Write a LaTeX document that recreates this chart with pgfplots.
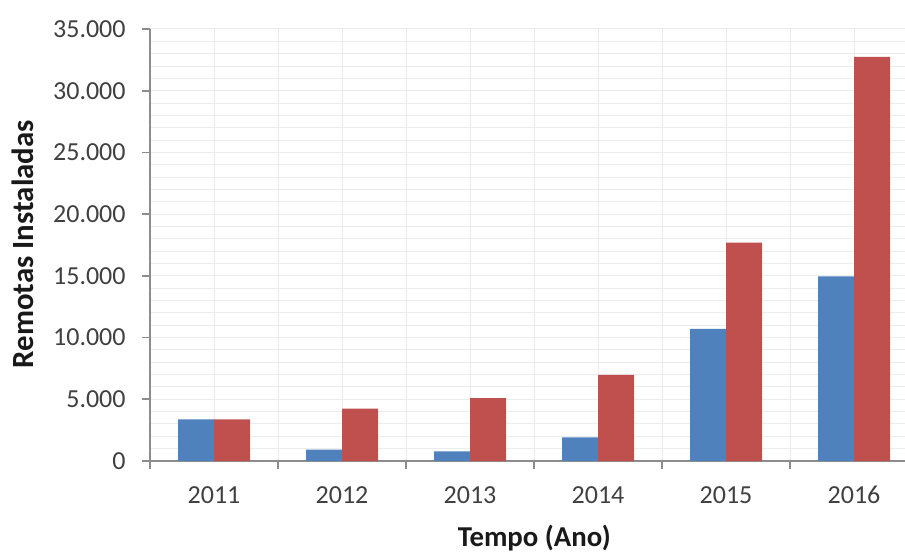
\documentclass[border=0pt]{standalone}
\usepackage{fontspec}
\setmainfont{Carlito}
\usepackage{pgfplots}
\pgfplotsset{compat=1.18}

\definecolor{barblue}{HTML}{4F81BD}
\definecolor{barred}{HTML}{C0504D}
\definecolor{gridgray}{HTML}{ECECEC}
\definecolor{axisgray}{HTML}{8C8C8C}
\definecolor{ticktext}{HTML}{404040}

\begin{document}
\begin{tikzpicture}
\begin{axis}[
  scale only axis,
  width=377.5pt, height=216pt,
  xmin=-0.5, xmax=5.398,
  ymin=0, ymax=35000,
  ybar=0pt, bar width=18pt,
  axis x line*=bottom, axis y line*=left,
  axis line style={axisgray, line width=0.8pt},
  tick align=outside,
  xtick={0,...,5},
  xticklabels={2011,2012,2013,2014,2015,2016},
  minor xtick={-0.5,0.5,...,5.0},
  ytick={0,5000,...,35000},
  minor ytick={1000,2000,...,34000},
  grid=both,
  major grid style={gridgray, line width=0.5pt},
  minor grid style={gridgray, line width=0.5pt},
  major x tick style={draw=none},
  minor y tick style={draw=none},
  major y tick style={axisgray, line width=0.8pt},
  minor x tick style={axisgray, line width=0.8pt},
  major tick length=4pt, minor tick length=4pt,
  scaled y ticks=false,
  /pgf/number format/.cd, 1000 sep={.}, assume math mode=true,
  /pgfplots/.cd,
  tick label style={font=\fontsize{13}{15}\selectfont, text=ticktext},
  xticklabel style={anchor=center, yshift=-13pt},
  yticklabel style={anchor=east, inner sep=0pt, xshift=-8pt},
  xlabel={Tempo (Ano)},
  ylabel={Remotas Instaladas},
  xlabel style={at={(axis description cs:0.509,-0.178)}, anchor=center,
    font=\fontsize{14.4}{17}\selectfont\bfseries, text=black!90},
  ylabel style={at={(axis description cs:-0.168,0.502)}, rotate=0, anchor=center,
    font=\fontsize{15.4}{18}\selectfont\bfseries, text=black!90},
]
\addplot[fill=barblue, draw=none] coordinates {
  (0,3380) (1,920) (2,790) (3,1920) (4,10700) (5,14950)};
\addplot[fill=barred, draw=none] coordinates {
  (0,3380) (1,4240) (2,5100) (3,6970) (4,17700) (5,32750)};
\coordinate (bl) at (rel axis cs:0,0);
\coordinate (tr) at (rel axis cs:1,1);
\end{axis}
\pgfresetboundingbox
\useasboundingbox ([shift={(-75pt,-45.5pt)}]bl) rectangle ([shift={(0pt,14.5pt)}]tr);
\end{tikzpicture}
\end{document}
